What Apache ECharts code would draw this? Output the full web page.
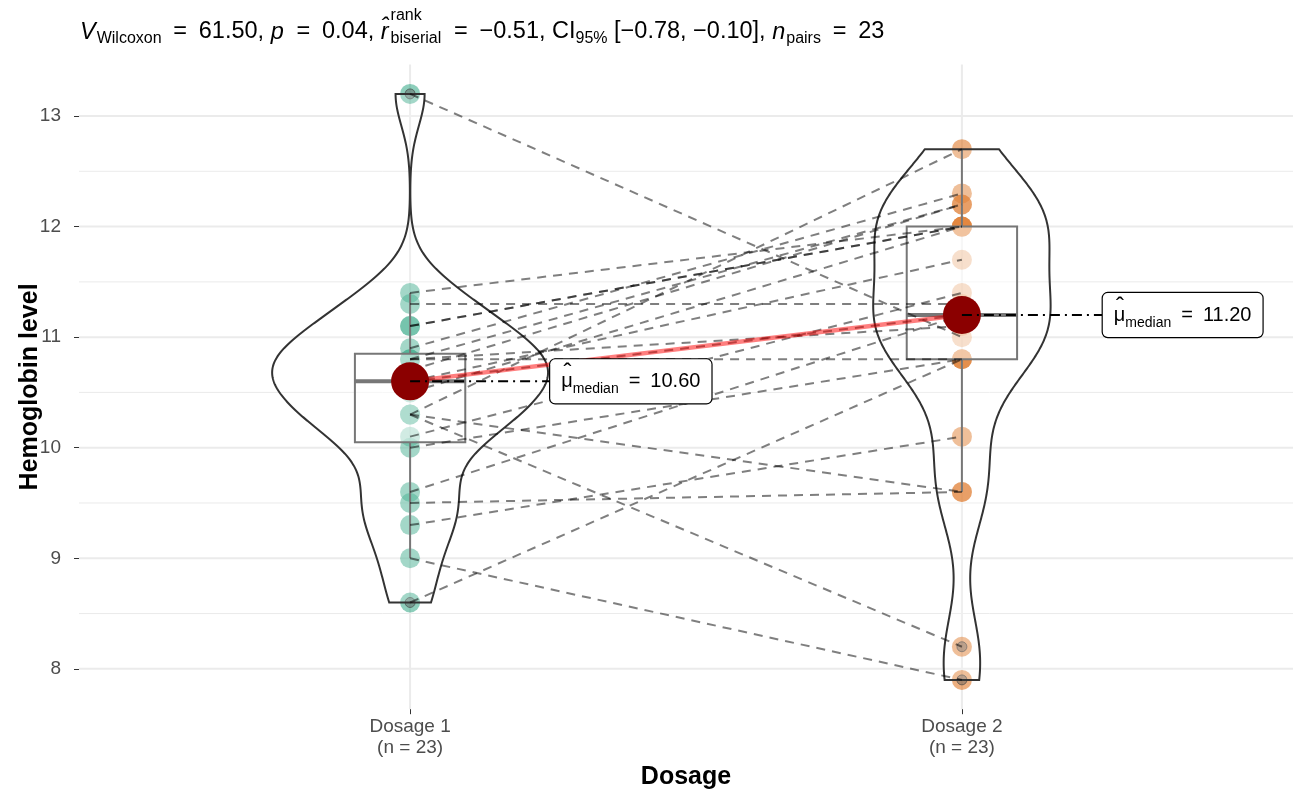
<!DOCTYPE html>
<html><head><meta charset="utf-8">
<script src="https://cdn.jsdelivr.net/npm/echarts@6/dist/echarts.min.js"></script>
<style>html,body{margin:0;padding:0;background:#fff}#c{width:1299px;height:796px}</style>
</head><body><div id="c"></div>
<script>
// ---------------- data ----------------
const categories = ['Dosage 1', 'Dosage 2'];
// paired observations: dosage1[i] <-> dosage2[i]
const dosage1 = [13.2, 11.4, 11.3, 11.1, 11.1, 10.9, 10.8, 10.3, 10.3, 10.3, 9.5, 9.3, 9.0, 8.6, 9.6, 10.0, 10.1, 10.5, 10.6, 10.6, 10.7, 10.8, 10.8];
const dosage2 = [11.0, 12.0, 11.3, 12.0, 12.0, 12.3, 12.2, 12.7, 8.2, 9.6, 9.6, 10.1, 7.9, 10.8, 11.2, 10.8, 11.4, 12.0, 11.7, 11.2, 12.2, 10.8, 11.1];
const yTicks = [8, 9, 10, 11, 12, 13];
const yMinorTicks = [8.5, 9.5, 10.5, 11.5, 12.5];
const xTicks = [1, 2];
const yRange = [7.635, 13.465];
const xRange = [0.4, 2.6];
const titlePieces = [
  {t: 'V', s: 23.5, it: true, pos: 'main'},
  {t: 'Wilcoxon', s: 16, pos: 'sub'},
  {t: '\u2002=\u200261.50, ', s: 23.5, pos: 'main'},
  {t: 'p', s: 23.5, it: true, pos: 'main'},
  {t: '\u2002=\u20020.04, ', s: 23.5, pos: 'main'},
  {t: 'r\u0302', s: 23.5, it: true, pos: 'main'},
  {stack: ['rank', 'biserial'], s: 16},
  {t: '\u2002=\u2002\u22120.51, CI', s: 23.5, pos: 'main'},
  {t: '95%', s: 16, pos: 'sub'},
  {t: ' [\u22120.78, \u22120.10], ', s: 23.5, pos: 'main'},
  {t: 'n', s: 23.5, it: true, pos: 'main'},
  {t: 'pairs', s: 16, pos: 'sub'},
  {t: '\u2002=\u200223', s: 23.5, pos: 'main'}
];

// ---------------- helpers ----------------
const FONT = '"Liberation Sans", Arial, Helvetica, sans-serif';
function quantile7(arr, p) {
  const s = [...arr].sort((a, b) => a - b);
  const h = (s.length - 1) * p, lo = Math.floor(h), hi = Math.min(lo + 1, s.length - 1);
  return s[lo] + (h - lo) * (s[hi] - s[lo]);
}
function sd(arr) {
  const m = arr.reduce((a, b) => a + b, 0) / arr.length;
  return Math.sqrt(arr.reduce((a, b) => a + (b - m) * (b - m), 0) / (arr.length - 1));
}
function bwNrd0(arr) {
  const iqr = quantile7(arr, 0.75) - quantile7(arr, 0.25);
  const lo = Math.min(sd(arr), iqr / 1.34);
  return 0.9 * lo * Math.pow(arr.length, -0.2);
}
function kde(arr, bw, ys) {
  const n = arr.length;
  return ys.map(y => {
    let s = 0;
    for (const x of arr) { const u = (y - x) / bw; s += Math.exp(-0.5 * u * u); }
    return s / (n * bw * Math.sqrt(2 * Math.PI));
  });
}
const groups = [dosage1, dosage2].map((vals, i) => {
  const x = i + 1;
  const q1 = quantile7(vals, 0.25), med = quantile7(vals, 0.5), q3 = quantile7(vals, 0.75);
  const iqr = q3 - q1, lowF = q1 - 1.5 * iqr, hiF = q3 + 1.5 * iqr;
  const inside = vals.filter(v => v >= lowF && v <= hiF);
  const outliers = vals.filter(v => v < lowF || v > hiF);
  const mn = Math.min(...vals), mx = Math.max(...vals);
  const ys = [];
  for (let k = 0; k < 512; k++) ys.push(mn + (mx - mn) * k / 511);
  return {x, q1, med, q3, wLo: Math.min(...inside), wHi: Math.max(...inside), outliers, ys, dens: kde(vals, bwNrd0(vals), ys), n: vals.length};
});
const maxDens = Math.max(...groups.flatMap(g => g.dens));
const violinHalf = 0.25, boxHalf = 0.1, labelNudge = 0.4;

// ---------------- title (measured chaining) ----------------
const ctx = document.createElement('canvas').getContext('2d');
function mw(t, s, it) { ctx.font = (it ? 'italic ' : '') + s + 'px ' + FONT; return ctx.measureText(t).width; }
const titleEls = [];
let cx = 80;
const yMain = 32, ySub = 39, ySup = 16;
titlePieces.forEach(p => {
  if (p.stack) {
    const w1 = mw(p.stack[0], p.s), w2 = mw(p.stack[1], p.s);
    titleEls.push({type: 'text', x: cx + 1, y: ySup, style: {text: p.stack[0], fontSize: p.s, fontFamily: FONT, fill: '#000', verticalAlign: 'middle'}});
    titleEls.push({type: 'text', x: cx + 1, y: ySub, style: {text: p.stack[1], fontSize: p.s, fontFamily: FONT, fill: '#000', verticalAlign: 'middle'}});
    cx += Math.max(w1, w2) + 2;
  } else {
    titleEls.push({type: 'text', x: cx, y: p.pos === 'sub' ? ySub : yMain, style: {text: p.t, fontSize: p.s, fontStyle: p.it ? 'italic' : 'normal', fontFamily: FONT, fill: '#000', verticalAlign: 'middle'}});
    cx += mw(p.t, p.s, p.it) + (p.it ? 1 : 0);
  }
});

// ---------------- chart ----------------
const chart = echarts.init(document.getElementById('c'), null, {renderer: 'canvas', width: 1299, height: 796});
const option = {
  animation: false,
  backgroundColor: '#fff',
  graphic: {elements: titleEls},
  grid: {left: 79, top: 64.6, width: 1214, height: 644.6, containLabel: false},
  xAxis: {
    type: 'value', min: xRange[0], max: xRange[1],
    axisLine: {show: false}, splitLine: {show: false},
    axisTick: {show: true, customValues: xTicks, length: 5, lineStyle: {color: '#333', width: 1}},
    axisLabel: {customValues: xTicks, formatter: v => categories[Math.round(v) - 1] + '\n(n = ' + groups[Math.round(v) - 1].n + ')', color: '#4D4D4D', fontSize: 19, lineHeight: 21, margin: 7, fontFamily: FONT},
    name: 'Dosage', nameLocation: 'middle', nameGap: 55, nameMoveOverlap: false,
    nameTextStyle: {fontWeight: 'bold', fontSize: 25, color: '#000', fontFamily: FONT}
  },
  yAxis: {
    type: 'value', min: yRange[0], max: yRange[1],
    axisLine: {show: false}, splitLine: {show: false},
    axisTick: {show: true, customValues: yTicks, length: 5, lineStyle: {color: '#333', width: 1}},
    axisLabel: {customValues: yTicks, color: '#4D4D4D', fontSize: 19, margin: 18, fontFamily: FONT},
    name: 'Hemoglobin level', nameLocation: 'middle', nameGap: 36, nameRotate: 90, nameMoveOverlap: false,
    nameTextStyle: {fontWeight: 'bold', fontSize: 25, color: '#000', fontFamily: FONT}
  },
  series: [
    { // grid lines
      type: 'custom', z: 0, silent: true, data: [[1, 10]],
      renderItem: (params, api) => {
        const ch = [];
        yMinorTicks.forEach(v => { const a = api.coord([xRange[0], v]), b = api.coord([xRange[1], v]);
          ch.push({type: 'line', shape: {x1: a[0], y1: a[1], x2: b[0], y2: b[1]}, style: {stroke: '#EBEBEB', lineWidth: 1}}); });
        yTicks.forEach(v => { const a = api.coord([xRange[0], v]), b = api.coord([xRange[1], v]);
          ch.push({type: 'line', shape: {x1: a[0], y1: a[1], x2: b[0], y2: b[1]}, style: {stroke: '#EBEBEB', lineWidth: 2}}); });
        xTicks.forEach(v => { const a = api.coord([v, yRange[0]]), b = api.coord([v, yRange[1]]);
          ch.push({type: 'line', shape: {x1: a[0], y1: a[1], x2: b[0], y2: b[1]}, style: {stroke: '#EBEBEB', lineWidth: 2}}); });
        return {type: 'group', children: ch};
      }
    },
    {type: 'scatter', z: 1, silent: true, data: dosage1.map(v => [1, v]), symbolSize: 20, itemStyle: {color: '#1B9E77', opacity: 0.5}},
    {type: 'scatter', z: 1, silent: true, data: dosage2.map(v => [2, v]), symbolSize: 20, itemStyle: {color: '#D95F02', opacity: 0.5}},
    { // boxplots
      type: 'custom', z: 2, silent: true, data: groups.map(g => [g.x, g.med]),
      renderItem: (params, api) => {
        const g = groups[params.dataIndex];
        const tl = api.coord([g.x - boxHalf, g.q3]), br = api.coord([g.x + boxHalf, g.q1]);
        const m1 = api.coord([g.x - boxHalf, g.med]), m2 = api.coord([g.x + boxHalf, g.med]);
        const wt = api.coord([g.x, g.wHi]), wb = api.coord([g.x, g.wLo]);
        const ch = [
          {type: 'line', shape: {x1: wt[0], y1: wt[1], x2: wt[0], y2: tl[1]}, style: {stroke: '#555', lineWidth: 2}},
          {type: 'line', shape: {x1: wb[0], y1: br[1], x2: wb[0], y2: wb[1]}, style: {stroke: '#555', lineWidth: 2}},
          {type: 'rect', shape: {x: tl[0], y: tl[1], width: br[0] - tl[0], height: br[1] - tl[1]}, style: {fill: 'rgba(255,255,255,0.5)', stroke: '#555', lineWidth: 2}},
          {type: 'line', shape: {x1: m1[0], y1: m1[1], x2: m2[0], y2: m2[1]}, style: {stroke: '#555', lineWidth: 4}}
        ];
        g.outliers.forEach(v => { const p = api.coord([g.x, v]);
          ch.push({type: 'circle', shape: {cx: p[0], cy: p[1], r: 5}, style: {fill: 'rgba(90,90,90,0.45)', stroke: 'rgba(60,60,60,0.6)', lineWidth: 1}}); });
        return {type: 'group', children: ch};
      }
    },
    { // violins
      type: 'custom', z: 3, silent: true, data: groups.map(g => [g.x, g.med]),
      renderItem: (params, api) => {
        const g = groups[params.dataIndex];
        const pts = [];
        for (let k = 0; k < g.ys.length; k++) pts.push(api.coord([g.x - violinHalf * g.dens[k] / maxDens, g.ys[k]]));
        for (let k = g.ys.length - 1; k >= 0; k--) pts.push(api.coord([g.x + violinHalf * g.dens[k] / maxDens, g.ys[k]]));
        return {type: 'polygon', shape: {points: pts}, style: {fill: 'rgba(255,255,255,0.2)', stroke: '#333', lineWidth: 2}};
      }
    },
    { // paired paths
      type: 'custom', z: 4, silent: true, encode: {x: [0, 2], y: [1, 3]},
      data: dosage1.map((v, i) => [1, v, 2, dosage2[i]]),
      renderItem: (params, api) => {
        const a = api.coord([api.value(0), api.value(1)]), b = api.coord([api.value(2), api.value(3)]);
        return {type: 'line', shape: {x1: a[0], y1: a[1], x2: b[0], y2: b[1]}, style: {stroke: 'rgba(0,0,0,0.5)', lineWidth: 2, lineDash: [9, 7]}};
      }
    },
    {type: 'line', z: 5, silent: true, data: groups.map(g => [g.x, g.med]), symbol: 'none', lineStyle: {color: 'rgba(255,0,0,0.5)', width: 4.5}},
    {type: 'scatter', z: 6, silent: true, data: groups.map(g => [g.x, g.med]), symbolSize: 38, itemStyle: {color: '#8B0000', opacity: 1}},
    { // centrality labels
      type: 'custom', z: 7, silent: true, data: groups.map(g => [g.x, g.med]),
      renderItem: (params, api) => {
        const g = groups[params.dataIndex];
        const p = api.coord([g.x, g.med]), q = api.coord([g.x + labelNudge, g.med]);
        const tail = '\u2002=\u2002' + g.med.toFixed(2);
        const muW = mw('\u03BC', 20), W = muW + mw('median', 14) + mw(tail, 20);
        const left = q[0] - W / 2;
        return {type: 'group', children: [
          {type: 'line', shape: {x1: p[0], y1: p[1], x2: q[0], y2: q[1]}, style: {stroke: '#000', lineWidth: 2, lineDash: [10, 5, 2, 5]}},
          {type: 'text', x: q[0], y: q[1], style: {
            text: '{mu|\u03BC}{sub|median}{t|' + tail + '}',
            rich: {
              mu: {fontSize: 20, fontFamily: FONT, lineHeight: 30, verticalAlign: 'middle', fill: '#000'},
              sub: {fontSize: 14, fontFamily: FONT, lineHeight: 16, verticalAlign: 'bottom', fill: '#000'},
              t: {fontSize: 20, fontFamily: FONT, lineHeight: 30, verticalAlign: 'middle', fill: '#000'}
            },
            align: 'center', verticalAlign: 'middle',
            backgroundColor: '#fff', borderColor: '#000', borderWidth: 1.2, borderRadius: 5, padding: [7, 11]
          }},
          {type: 'text', x: left + muW / 2 + 0.5, y: q[1] - 8, style: {text: '\u02C6', fontSize: 24, fontFamily: FONT, align: 'center', verticalAlign: 'middle', fill: '#000'}}
        ]};
      }
    }
  ]
};
chart.setOption(option);
</script>
</body></html>
